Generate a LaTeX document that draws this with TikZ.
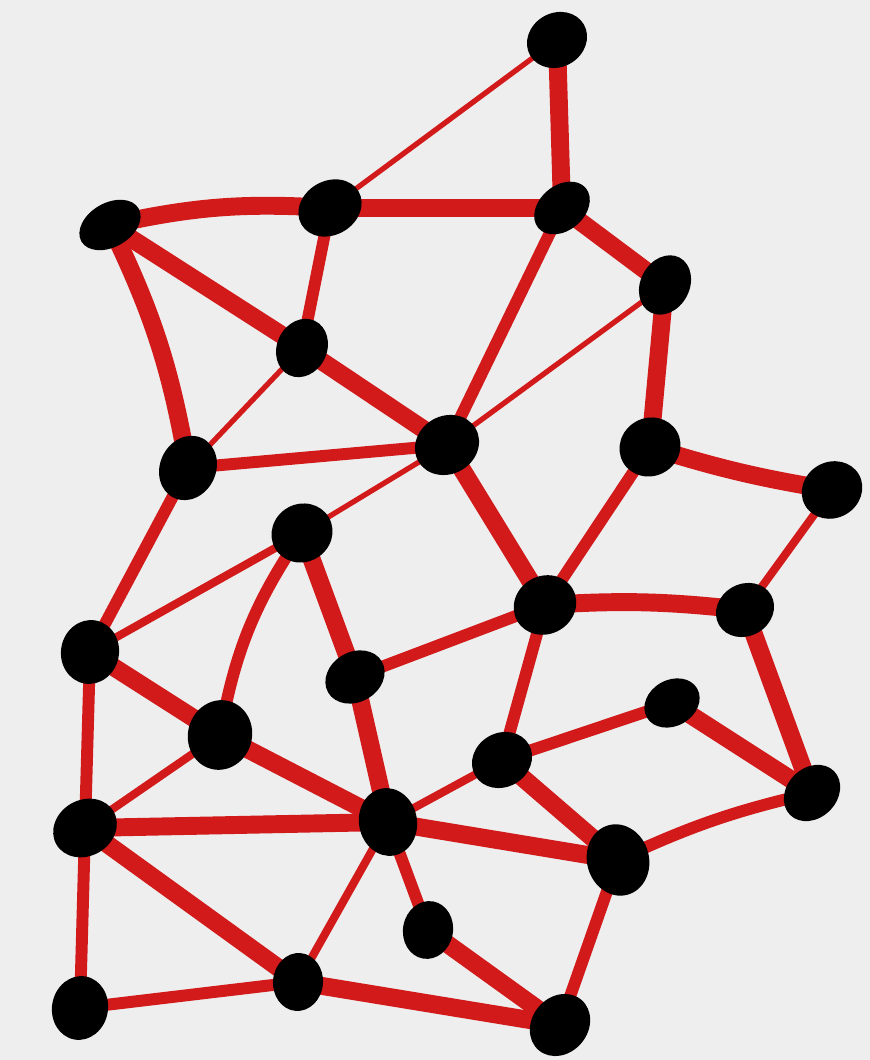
\documentclass[tikz,border=0pt]{standalone}
\usepackage{xcolor}
\usepackage{tikz}
\usetikzlibrary{shapes.geometric}
\definecolor{paper}{RGB}{238,238,238}
\definecolor{inkred}{RGB}{210,26,26}
\pgfdeclarelayer{sheet}
\pgfdeclarelayer{links}
\pgfsetlayers{sheet,links,main}
\tikzset{
  blob/.style={ellipse, fill=black, draw=none, inner sep=0pt,
               minimum width=6.2mm, minimum height=4.9mm, rotate=30},
  wide/.style={draw=inkred, line width=5.1pt, line cap=round},
  med/.style={draw=inkred, line width=3.4pt, line cap=round},
  lean/.style={draw=inkred, line width=2.3pt, line cap=round},
  slim/.style={draw=inkred, line width=1.5pt, line cap=round},
}

\begin{document}
\begin{tikzpicture}
\begin{pgfonlayer}{sheet}
\fill[paper] (0,0) rectangle (8.7,10.6);
\end{pgfonlayer}
\useasboundingbox (0,0) rectangle (8.7,10.6);
% blobs
\node[blob, minimum height=5.4mm] (v1) at (5.57,10.20) {};
\node[blob, minimum width=6.6mm, minimum height=4.4mm] (v2) at (1.10,8.35) {};
\node[blob, minimum width=6.6mm, minimum height=5.4mm] (v3) at (3.30,8.52) {};
\node[blob, minimum height=4.5mm, rotate=10] (v4) at (5.62,8.52) {};
\node[blob, rotate=32] (v5) at (6.65,7.75) {};
\node[blob, minimum width=6.0mm, minimum height=5.0mm, rotate=35] (v6) at (3.02,7.12) {};
\node[blob, minimum width=6.6mm, minimum height=5.8mm] (v7) at (4.47,6.15) {};
\node[blob, minimum width=6.6mm, minimum height=5.6mm, rotate=35] (v8) at (1.88,5.92) {};
\node[blob, minimum width=6.2mm, minimum height=5.8mm] (v9) at (6.50,6.13) {};
\node[blob, minimum width=6.2mm, minimum height=5.6mm] (v10) at (8.32,5.70) {};
\node[blob, minimum width=6.2mm, minimum height=5.8mm] (v11) at (3.02,5.27) {};
\node[blob, minimum width=6.4mm, minimum height=5.8mm] (v12) at (5.45,4.55) {};
\node[blob, minimum width=6.0mm, minimum height=5.2mm] (v13) at (7.45,4.50) {};
\node[blob, minimum width=6.4mm, minimum height=5.8mm, rotate=50] (v14) at (0.90,4.08) {};
\node[blob, minimum width=6.2mm, minimum height=5.0mm] (v15) at (3.55,3.83) {};
\node[blob, minimum width=5.8mm, minimum height=4.6mm] (v16) at (6.72,3.57) {};
\node[blob, minimum width=7.0mm, minimum height=6.4mm, rotate=45] (v17) at (2.20,3.25) {};
\node[blob, minimum width=6.2mm, minimum height=5.4mm] (v18) at (5.02,3.00) {};
\node[blob, minimum width=6.2mm, minimum height=5.0mm, rotate=15] (v19) at (8.12,2.67) {};
\node[blob, minimum width=6.6mm, minimum height=5.6mm] (v20) at (0.85,2.32) {};
\node[blob, minimum width=6.8mm, minimum height=5.8mm, rotate=70] (v21) at (3.88,2.38) {};
\node[blob, minimum width=7.2mm, minimum height=6.2mm, rotate=75] (v22) at (6.18,2.00) {};
\node[blob, minimum width=5.8mm, minimum height=5.0mm, rotate=50] (v23) at (4.28,1.30) {};
\node[blob, minimum width=5.8mm, minimum height=5.0mm, rotate=55] (v24) at (2.98,0.78) {};
\node[blob, minimum width=6.4mm, minimum height=5.6mm, rotate=50] (v25) at (0.80,0.52) {};
\node[blob, minimum width=6.6mm, minimum height=5.6mm, rotate=20] (v26) at (5.60,0.35) {};
% links
\begin{pgfonlayer}{links}
\draw[wide] (v1.center) -- (v4.center);
\draw[slim] (v1.center) -- (v3.center);
\draw[wide] (v2.center) to[bend left=8] (v3.center);
\draw[wide] (v3.center) -- (v4.center);
\draw[wide] (v4.center) -- (v5.center);
\draw[wide] (v2.center) -- (v6.center);
\draw[wide] (v6.center) -- (v7.center);
\draw[wide] (v2.center) to[bend left=8] (v8.center);
\draw[med] (v3.center) -- (v6.center);
\draw[slim] (v6.center) -- (v8.center);
\draw[med] (v8.center) -- (v7.center);
\draw[med] (v4.center) -- (v7.center);
\draw[slim] (v5.center) -- (v7.center);
\draw[wide] (v5.center) -- (v9.center);
\draw[wide] (v9.center) to[bend right=4] (v10.center);
\draw[wide] (v7.center) -- (v12.center);
\draw[med] (v9.center) -- (v12.center);
\draw[lean] (v10.center) -- (v13.center);
\draw[wide] (v12.center) to[bend left=5] (v13.center);
\draw[slim] (v7.center) -- (v11.center);
\draw[med] (v8.center) -- (v14.center);
\draw[lean] (v14.center) -- (v11.center);
\draw[med] (v11.center) to[bend right=12] (v17.center);
\draw[wide] (v11.center) -- (v15.center);
\draw[wide] (v15.center) -- (v21.center);
\draw[med] (v15.center) -- (v12.center);
\draw[med] (v12.center) -- (v18.center);
\draw[wide] (v14.center) -- (v17.center);
\draw[wide] (v17.center) -- (v21.center);
\draw[med] (v14.center) -- (v20.center);
\draw[lean] (v17.center) -- (v20.center);
\draw[wide] (v20.center) -- (v21.center);
\draw[lean] (v21.center) -- (v18.center);
\draw[med] (v18.center) -- (v16.center);
\draw[wide] (v18.center) -- (v22.center);
\draw[wide] (v21.center) -- (v22.center);
\draw[wide] (v16.center) -- (v19.center);
\draw[wide] (v13.center) -- (v19.center);
\draw[med] (v19.center) to[bend right=6] (v22.center);
\draw[med] (v20.center) -- (v25.center);
\draw[wide] (v20.center) -- (v24.center);
\draw[med] (v25.center) -- (v24.center);
\draw[lean] (v21.center) -- (v24.center);
\draw[med] (v21.center) -- (v23.center);
\draw[wide] (v23.center) -- (v26.center);
\draw[wide] (v24.center) -- (v26.center);
\draw[med] (v22.center) -- (v26.center);
\end{pgfonlayer}
\end{tikzpicture}
\end{document}
